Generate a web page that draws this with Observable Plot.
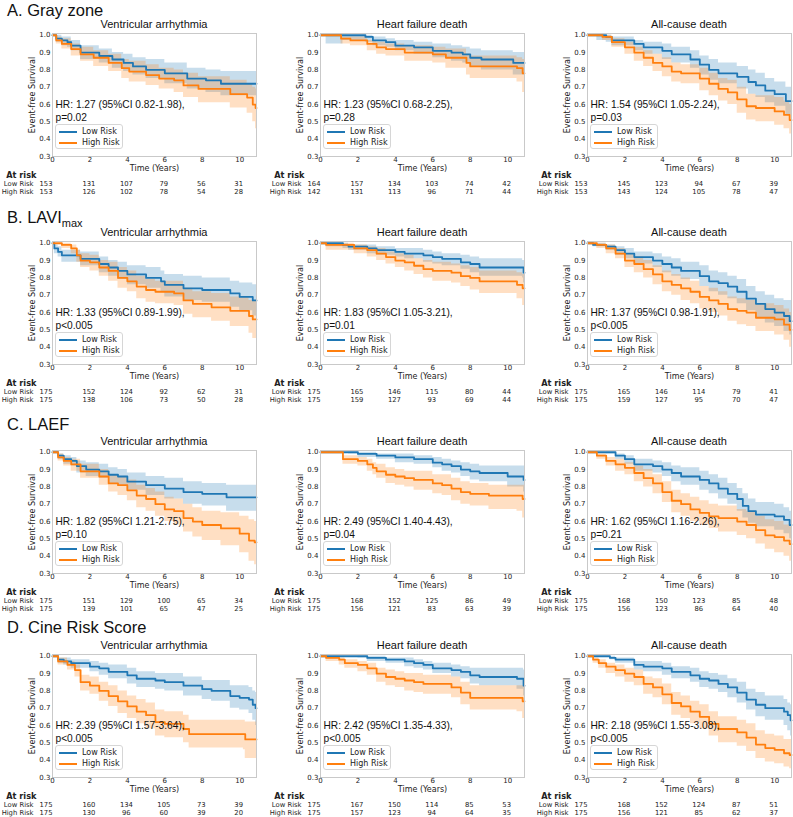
<!DOCTYPE html>
<html><head><meta charset="utf-8">
<script src="https://cdn.jsdelivr.net/npm/d3@7"></script>
<script src="https://cdn.jsdelivr.net/npm/@observablehq/plot@0.6"></script>
<style>
body{margin:0;background:#fff;}
#root{position:relative;width:793px;height:817px;overflow:hidden;font-family:"Liberation Sans",Arial,sans-serif;color:#111;}
.rowtitle{font-size:16.5px;line-height:18px;white-space:nowrap;}
.rowtitle sub{font-size:11px;vertical-align:-4px;}
.ptitle{font-size:11px;line-height:12px;text-align:center;white-space:nowrap;}
.legend{box-sizing:border-box;width:68px;height:25px;border:1px solid #d6d6d6;border-radius:3px;background:rgba(255,255,255,0.85);font-family:"DejaVu Sans",sans-serif;font-size:8px;color:#222;padding-top:1px;}
.li{height:11px;line-height:11px;white-space:nowrap;}
.sw{display:inline-block;width:18px;height:2px;margin:0 5px 0 3px;vertical-align:middle;}
</style></head><body><div id="root"></div>
<script>
// ---------- labels ----------
const rowTitles = ["A. Gray zone", "B. LAVI<sub>max</sub>", "C. LAEF", "D. Cine Risk Score"];
const outcomeTitles = ["Ventricular arrhythmia", "Heart failure death", "All-cause death"];
const groups = ["Low Risk", "High Risk"];
const groupColors = ["#1f77b4", "#ff7f0e"];
const yearTicks = [0, 2, 4, 6, 8, 10];
const survTicks = [0.3, 0.4, 0.5, 0.6, 0.7, 0.8, 0.9, 1.0];
const hrText = [
  ["HR: 1.27 (95%CI 0.82-1.98),", "p=0.02"], ["HR: 1.23 (95%CI 0.68-2.25),", "p=0.28"], ["HR: 1.54 (95%CI 1.05-2.24),", "p=0.03"],
  ["HR: 1.33 (95%CI 0.89-1.99),", "p<0.005"], ["HR: 1.83 (95%CI 1.05-3.21),", "p=0.01"], ["HR: 1.37 (95%CI 0.98-1.91),", "p<0.005"],
  ["HR: 1.82 (95%CI 1.21-2.75),", "p=0.10"], ["HR: 2.49 (95%CI 1.40-4.43),", "p=0.04"], ["HR: 1.62 (95%CI 1.16-2.26),", "p=0.21"],
  ["HR: 2.39 (95%CI 1.57-3.64),", "p<0.005"], ["HR: 2.42 (95%CI 1.35-4.33),", "p<0.005"], ["HR: 2.18 (95%CI 1.55-3.08),", "p<0.005"]
];

// ---------- at-risk counts (at years 0,2,4,6,8,10) ----------
const gzVA_nLow = [153,131,107,79,56,31],  gzVA_nHigh = [153,126,102,78,54,28];
const gzHF_nLow = [164,157,134,103,74,42], gzHF_nHigh = [142,131,113,96,71,44];
const gzAC_nLow = [153,145,123,94,67,39],  gzAC_nHigh = [153,143,124,105,78,47];
const laviVA_nLow = [175,152,124,92,62,31],  laviVA_nHigh = [175,138,106,73,50,28];
const laviHF_nLow = [175,165,146,115,80,44], laviHF_nHigh = [175,159,127,93,69,44];
const laviAC_nLow = [175,165,146,114,79,41], laviAC_nHigh = [175,159,127,95,70,47];
const laefVA_nLow = [175,151,129,100,65,34], laefVA_nHigh = [175,139,101,65,47,25];
const laefHF_nLow = [175,168,152,125,86,49], laefHF_nHigh = [175,156,121,83,63,39];
const laefAC_nLow = [175,168,150,123,85,48], laefAC_nHigh = [175,156,123,86,64,40];
const cineVA_nLow = [175,160,134,105,73,39], cineVA_nHigh = [175,130,96,60,39,20];
const cineHF_nLow = [175,167,150,114,85,53], cineHF_nHigh = [175,157,123,94,64,35];
const cineAC_nLow = [175,168,152,124,87,51], cineAC_nHigh = [175,156,121,85,62,37];

// ---------- Kaplan-Meier curves: [time, survival, CI lower, CI upper] ----------
const gzVA_low = [[0,1,1,1],[0.2,.98,.96,1],[0.5,.97,.94,.99],[0.8,.96,.93,.99],[1.0,.94,.91,.97],[1.5,.90,.86,.94],[2.5,.88,.84,.92],[3.2,.86,.81,.90],[3.8,.84,.79,.89],[4.3,.82,.77,.87],[5.0,.80,.75,.86],[6.0,.78,.72,.84],[7.2,.75,.69,.81],[8.2,.74,.67,.80],[9.0,.72,.65,.79],[10.9,.72,.65,.79]];
const gzVA_high = [[0,1,1,1],[0.2,.97,.95,.99],[0.5,.95,.92,.98],[1.0,.92,.88,.95],[1.5,.89,.85,.93],[2.2,.87,.82,.91],[3.0,.84,.79,.89],[3.7,.81,.75,.86],[4.1,.79,.73,.85],[5.0,.77,.71,.83],[5.7,.75,.69,.81],[6.5,.74,.67,.80],[7.0,.71,.64,.78],[7.8,.69,.61,.76],[9.5,.66,.58,.74],[10.4,.64,.55,.72],[10.7,.60,.50,.70],[10.85,.58,.46,.69],[10.9,.58,.46,.69]];
const gzHF_low = [[0,1,1,1],[0.3,1,.95,1],[1.2,1,.97,1],[2.4,.99,.96,1],[2.8,.97,.94,.99],[3.5,.96,.93,.98],[4.0,.94,.91,.97],[5.0,.93,.89,.96],[6.0,.91,.87,.95],[7.0,.90,.85,.94],[7.6,.89,.84,.93],[8.0,.87,.82,.92],[8.6,.86,.80,.91],[10.3,.84,.77,.90],[10.9,.84,.77,.90]];
const gzHF_high = [[0,1,1,1],[1.1,.98,.95,.99],[1.6,.97,.94,.99],[2.5,.95,.91,.97],[3.0,.93,.89,.96],[3.5,.92,.88,.95],[4.5,.90,.85,.94],[6.0,.89,.84,.93],[6.7,.87,.81,.92],[7.8,.84,.77,.89],[8.0,.82,.75,.88],[10.5,.81,.73,.87],[10.8,.78,.67,.86],[10.9,.78,.67,.86]];
const gzAC_low = [[0,1,1,1],[0.5,1,.97,1],[1.0,.99,.96,1],[1.3,.97,.94,.99],[2.5,.95,.91,.97],[3.0,.93,.89,.96],[4.0,.91,.86,.95],[4.5,.89,.84,.93],[5.5,.86,.81,.91],[6.0,.83,.77,.88],[6.5,.80,.74,.86],[7.0,.78,.72,.84],[8.0,.76,.69,.82],[8.6,.73,.66,.80],[9.0,.71,.64,.78],[9.5,.68,.61,.75],[10.0,.66,.59,.73],[10.6,.62,.54,.70],[10.9,.62,.54,.70]];
const gzAC_high = [[0,1,1,1],[0.8,.99,.97,1],[1.3,.96,.93,.98],[2.0,.93,.89,.96],[2.5,.90,.85,.93],[3.0,.87,.82,.91],[3.5,.84,.79,.89],[4.0,.82,.76,.87],[4.5,.79,.73,.84],[5.0,.78,.72,.83],[6.0,.75,.68,.81],[6.5,.72,.65,.78],[7.0,.69,.62,.75],[7.5,.67,.60,.74],[8.0,.63,.55,.70],[8.5,.59,.51,.66],[9.0,.58,.50,.65],[10.0,.56,.48,.64],[10.5,.54,.46,.62],[10.8,.51,.43,.60],[10.9,.51,.43,.60]];
const laviVA_low = [[0,1,1,1],[0.1,.97,.94,.99],[0.3,.95,.92,.98],[0.5,.93,.89,.96],[1.5,.91,.87,.95],[2.5,.88,.83,.92],[3.0,.86,.81,.90],[3.5,.84,.79,.89],[4.0,.82,.76,.87],[5.0,.80,.74,.86],[5.8,.78,.72,.84],[6.0,.76,.69,.82],[7.0,.74,.67,.81],[8.0,.73,.66,.80],[9.5,.71,.63,.78],[10.0,.69,.61,.77],[10.7,.67,.58,.76],[10.9,.67,.58,.76]];
const laviVA_high = [[0,1,1,1],[0.5,.99,.97,1],[1.0,.97,.94,.99],[1.3,.93,.89,.96],[1.5,.90,.86,.94],[2.0,.89,.84,.93],[2.5,.86,.81,.90],[3.0,.84,.78,.89],[3.5,.80,.74,.86],[4.0,.78,.72,.84],[4.5,.75,.68,.81],[5.0,.73,.66,.79],[5.5,.72,.65,.78],[6.5,.71,.64,.78],[7.0,.67,.59,.74],[7.5,.65,.57,.72],[8.5,.63,.55,.71],[9.5,.61,.52,.69],[10.5,.58,.48,.67],[10.7,.56,.45,.67],[10.9,.56,.45,.67]];
const laviHF_low = [[0,1,1,1],[0.3,1,.98,1],[1.2,.99,.97,1],[1.5,.98,.96,.99],[2.5,.97,.94,.99],[3.0,.96,.93,.98],[4.0,.95,.92,.97],[4.5,.94,.91,.97],[5.5,.93,.89,.96],[6.0,.92,.88,.95],[6.5,.91,.87,.94],[7.5,.89,.85,.93],[8.0,.88,.83,.92],[8.5,.86,.81,.91],[10.8,.86,.80,.90],[10.85,.83,.77,.90],[10.9,.83,.77,.90]];
const laviHF_high = [[0,1,1,1],[0.3,.99,.96,1],[1.8,.97,.94,.99],[2.5,.96,.92,.98],[3.0,.94,.90,.97],[3.5,.92,.88,.95],[4.0,.90,.86,.94],[4.5,.89,.84,.93],[5.0,.87,.82,.91],[5.5,.85,.80,.90],[6.0,.84,.78,.89],[7.0,.83,.77,.88],[7.5,.81,.75,.87],[8.0,.80,.73,.86],[8.5,.78,.71,.84],[10.5,.76,.68,.83],[10.8,.74,.64,.82],[10.9,.74,.64,.82]];
const laviAC_low = [[0,1,1,1],[0.3,.99,.98,1],[1.0,.98,.96,.99],[1.5,.96,.93,.98],[2.0,.94,.91,.97],[2.5,.92,.88,.95],[3.5,.90,.86,.94],[4.0,.88,.83,.92],[4.5,.86,.81,.91],[5.0,.84,.79,.89],[6.0,.81,.75,.87],[6.5,.78,.72,.84],[7.0,.77,.70,.83],[7.5,.75,.68,.81],[8.0,.72,.65,.79],[8.5,.68,.61,.75],[9.0,.65,.57,.72],[9.5,.62,.54,.70],[10.0,.60,.52,.68],[10.5,.58,.49,.67],[10.8,.55,.47,.67],[10.9,.55,.47,.67]];
const laviAC_high = [[0,1,1,1],[0.5,.99,.97,1],[1.0,.97,.94,.99],[1.5,.94,.91,.97],[2.0,.90,.86,.94],[2.5,.88,.83,.92],[3.0,.85,.80,.90],[3.5,.82,.76,.87],[4.0,.78,.72,.84],[4.5,.76,.70,.82],[5.0,.74,.67,.80],[5.5,.72,.65,.78],[6.0,.69,.62,.75],[6.5,.67,.60,.74],[7.0,.65,.58,.72],[7.5,.62,.55,.69],[8.0,.61,.53,.68],[8.5,.60,.52,.67],[9.0,.57,.49,.65],[10.0,.56,.47,.64],[10.5,.53,.44,.62],[10.8,.50,.40,.60],[10.9,.50,.40,.60]];
const laefVA_low = [[0,1,1,1],[0.3,.98,.96,.99],[0.6,.96,.93,.98],[1.0,.95,.92,.97],[1.3,.92,.88,.95],[1.8,.90,.86,.94],[2.5,.89,.85,.93],[3.0,.87,.82,.91],[3.5,.86,.81,.90],[4.0,.83,.78,.88],[5.0,.81,.75,.86],[6.0,.79,.73,.85],[7.0,.77,.70,.83],[8.0,.76,.69,.82],[9.3,.74,.66,.81],[10.9,.74,.66,.81]];
const laefVA_high = [[0,1,1,1],[0.3,.97,.95,.99],[0.6,.95,.92,.97],[1.0,.93,.89,.96],[1.5,.89,.85,.93],[2.5,.86,.81,.90],[3.0,.82,.77,.87],[3.5,.81,.75,.86],[4.0,.78,.72,.84],[4.5,.75,.68,.81],[5.0,.73,.66,.79],[5.5,.70,.63,.77],[6.0,.67,.60,.74],[6.5,.66,.58,.73],[7.0,.62,.54,.70],[7.5,.60,.51,.68],[8.0,.58,.49,.66],[9.0,.56,.46,.65],[10.0,.53,.42,.63],[10.5,.49,.37,.61],[10.8,.48,.35,.60],[10.9,.48,.35,.60]];
const laefHF_low = [[0,1,1,1],[1.5,1,.99,1],[2.0,.99,.97,1],[3.0,.98,.96,.99],[4.0,.97,.94,.99],[5.0,.96,.93,.98],[6.0,.94,.91,.97],[6.5,.93,.89,.96],[7.0,.92,.88,.95],[7.5,.90,.86,.94],[8.0,.89,.84,.93],[8.5,.88,.83,.92],[10.0,.86,.80,.92],[10.85,.84,.77,.92],[10.9,.84,.77,.92]];
const laefHF_high = [[0,1,1,1],[1.2,.96,.93,.98],[2.0,.95,.92,.97],[2.5,.93,.89,.96],[2.8,.91,.87,.94],[3.0,.89,.85,.93],[3.5,.87,.82,.91],[4.0,.86,.81,.90],[4.5,.85,.80,.89],[5.0,.84,.78,.89],[6.0,.82,.76,.87],[6.5,.81,.75,.87],[7.0,.79,.72,.85],[7.5,.77,.70,.83],[8.0,.76,.69,.82],[9.0,.75,.67,.81],[10.5,.75,.66,.81],[10.8,.73,.62,.81],[10.9,.73,.62,.81]];
const laefAC_low = [[0,1,1,1],[1.0,1,.99,1],[1.5,.98,.96,.99],[2.0,.96,.93,.98],[2.5,.93,.89,.96],[3.5,.92,.88,.95],[4.0,.90,.86,.94],[4.5,.88,.83,.92],[5.0,.86,.81,.91],[6.0,.84,.78,.89],[6.5,.82,.76,.87],[7.0,.79,.73,.85],[7.5,.76,.70,.82],[8.0,.73,.66,.79],[8.3,.69,.62,.76],[8.6,.66,.59,.73],[9.0,.64,.57,.71],[10.0,.63,.55,.70],[10.5,.61,.53,.68],[10.8,.58,.50,.66],[10.9,.58,.50,.66]];
const laefAC_high = [[0,1,1,1],[0.5,.98,.96,.99],[1.0,.95,.92,.97],[1.5,.93,.89,.96],[2.0,.91,.87,.94],[2.5,.88,.83,.92],[3.0,.85,.80,.90],[3.5,.82,.76,.87],[4.0,.77,.71,.83],[4.5,.72,.65,.78],[5.0,.70,.63,.76],[5.5,.67,.60,.74],[6.0,.65,.58,.72],[6.5,.63,.56,.70],[7.0,.62,.54,.69],[8.0,.60,.52,.67],[8.5,.58,.50,.66],[9.0,.55,.47,.63],[9.5,.52,.44,.61],[10.0,.51,.42,.60],[10.5,.49,.40,.58],[10.8,.47,.37,.57],[10.9,.47,.37,.57]];
const cineVA_low = [[0,1,1,1],[0.3,.98,.96,.99],[0.6,.97,.95,.99],[1.0,.96,.93,.98],[2.0,.94,.91,.97],[2.5,.93,.89,.96],[3.0,.91,.87,.95],[4.0,.89,.84,.93],[4.5,.87,.82,.91],[5.5,.86,.81,.90],[6.0,.85,.80,.90],[7.0,.83,.77,.88],[8.0,.81,.75,.86],[8.5,.80,.74,.86],[9.5,.77,.70,.83],[10.0,.76,.69,.83],[10.5,.75,.67,.82],[10.7,.72,.63,.80],[10.85,.70,.60,.79],[10.9,.70,.60,.79]];
const cineVA_high = [[0,1,1,1],[0.3,.97,.95,.99],[0.8,.95,.92,.97],[1.2,.92,.88,.95],[1.5,.85,.80,.89],[2.0,.83,.78,.88],[2.5,.80,.74,.85],[3.0,.77,.71,.83],[3.5,.74,.67,.80],[4.0,.71,.64,.77],[4.5,.68,.61,.75],[5.0,.66,.58,.73],[5.5,.62,.54,.69],[6.0,.61,.53,.68],[7.0,.58,.50,.66],[7.3,.55,.47,.63],[10.2,.55,.46,.63],[10.3,.52,.41,.62],[10.9,.52,.41,.62]];
const cineHF_low = [[0,1,1,1],[2.0,1,.99,1],[2.5,.99,.97,1],[3.5,.98,.96,.99],[4.5,.97,.94,.99],[5.0,.96,.93,.98],[5.5,.95,.92,.97],[6.0,.93,.90,.96],[7.0,.92,.88,.95],[7.5,.91,.87,.94],[8.0,.89,.84,.93],[8.5,.88,.83,.93],[10.5,.87,.81,.93],[10.85,.83,.77,.92],[10.9,.83,.77,.92]];
const cineHF_high = [[0,1,1,1],[0.3,.99,.97,1],[1.0,.98,.95,.99],[1.3,.96,.93,.98],[2.0,.95,.91,.97],[2.5,.93,.89,.96],[3.0,.90,.85,.93],[3.5,.88,.83,.92],[4.0,.87,.82,.91],[4.5,.86,.80,.90],[5.0,.85,.79,.90],[5.5,.84,.78,.89],[7.0,.82,.76,.88],[7.5,.79,.72,.85],[8.0,.76,.69,.83],[10.5,.76,.68,.83],[10.8,.74,.64,.83],[10.9,.74,.64,.83]];
const cineAC_low = [[0,1,1,1],[1.2,.99,.98,1],[1.5,.98,.96,.99],[2.5,.95,.92,.97],[3.0,.94,.91,.97],[4.0,.93,.89,.96],[4.5,.91,.87,.94],[5.5,.89,.85,.93],[6.0,.87,.82,.91],[6.5,.86,.81,.90],[7.0,.84,.79,.89],[7.5,.82,.76,.87],[8.0,.79,.73,.85],[8.5,.75,.69,.81],[9.0,.72,.65,.79],[9.5,.70,.63,.77],[10.5,.68,.60,.75],[10.7,.66,.57,.73],[10.85,.63,.54,.72],[10.9,.63,.54,.72]];
const cineAC_high = [[0,1,1,1],[0.3,.98,.96,.99],[0.6,.96,.93,.98],[1.0,.94,.90,.96],[1.5,.92,.88,.95],[2.0,.90,.85,.93],[2.5,.88,.83,.92],[3.0,.84,.78,.88],[3.5,.82,.76,.87],[4.0,.78,.72,.84],[4.5,.73,.66,.79],[5.0,.71,.64,.77],[5.5,.68,.61,.74],[6.0,.65,.58,.72],[6.5,.61,.54,.68],[7.0,.58,.50,.65],[8.0,.56,.48,.63],[8.5,.53,.45,.61],[9.0,.49,.41,.57],[9.5,.47,.39,.55],[10.0,.46,.38,.54],[10.5,.44,.36,.52],[10.8,.43,.35,.52],[10.9,.43,.35,.52]];

const panels = [
  [gzVA_low, gzVA_high, gzVA_nLow, gzVA_nHigh], [gzHF_low, gzHF_high, gzHF_nLow, gzHF_nHigh], [gzAC_low, gzAC_high, gzAC_nLow, gzAC_nHigh],
  [laviVA_low, laviVA_high, laviVA_nLow, laviVA_nHigh], [laviHF_low, laviHF_high, laviHF_nLow, laviHF_nHigh], [laviAC_low, laviAC_high, laviAC_nLow, laviAC_nHigh],
  [laefVA_low, laefVA_high, laefVA_nLow, laefVA_nHigh], [laefHF_low, laefHF_high, laefHF_nLow, laefHF_nHigh], [laefAC_low, laefAC_high, laefAC_nLow, laefAC_nHigh],
  [cineVA_low, cineVA_high, cineVA_nLow, cineVA_nHigh], [cineHF_low, cineHF_high, cineHF_nLow, cineHF_nHigh], [cineAC_low, cineAC_high, cineAC_nLow, cineAC_nHigh]
];

// ---------- layout ----------
const frameLefts = [52, 320, 587];
const frameTops = [33, 241, 450, 654];
const rowTitleTops = [1, 208, 415, 618];
const ML = 44, MT = 2, MB = 22, FW = 204, FH = 123;
const PW = ML + FW + 2, PH = MT + FH + MB;
const xDomain = [0, 10.9], yDomain = [0.3, 1.01];

const root = document.getElementById("root");
function place(el, left, top) { el.style.position = "absolute"; el.style.left = left + "px"; el.style.top = top + "px"; root.appendChild(el); return el; }

rowTitles.forEach((t, r) => {
  const d = document.createElement("div"); d.className = "rowtitle"; d.innerHTML = t; place(d, 7, rowTitleTops[r]);
});

panels.forEach((p, i) => {
  const r = Math.floor(i / 3), c = i % 3;
  const fl = frameLefts[c], ft = frameTops[r];
  const [low, high, nLow, nHigh] = p;
  const rows = [
    ...low.map(d => ({t: d[0], s: d[1], lo: d[2], hi: d[3], g: groups[0]})),
    ...high.map(d => ({t: d[0], s: d[1], lo: d[2], hi: d[3], g: groups[1]}))
  ];
  const main = Plot.plot({
    width: PW, height: PH, marginLeft: ML, marginRight: 2, marginTop: MT, marginBottom: MB,
    style: {fontFamily: "DejaVu Sans, sans-serif", fontSize: "7px", color: "#222", background: "transparent", overflow: "visible"},
    x: {domain: xDomain},
    y: {domain: yDomain},
    color: {domain: groups, range: groupColors},
    marks: [
      Plot.areaY(rows, {x: "t", y1: "lo", y2: "hi", fill: "g", fillOpacity: 0.25, curve: "step-after"}),
      Plot.line(rows, {x: "t", y: "s", stroke: "g", z: "g", strokeWidth: 1.8, curve: "step-after"}),
      Plot.frame({stroke: "#c9c9c9"}),
      Plot.axisX({ticks: yearTicks, tickSize: 0, tickPadding: 1, tickFormat: d => String(d), label: null}),
      Plot.axisY({ticks: survTicks, tickSize: 0, tickPadding: 2, tickFormat: d3.format(".1f"), label: null}),
      Plot.text(["Event-free Survival"], {frameAnchor: "left", rotate: -90, dx: -20, fontSize: 8, textAnchor: "middle"}),
      Plot.text(["Time (Years)"], {frameAnchor: "bottom", dy: 14.5, fontSize: 8, textAnchor: "middle"}),
      Plot.text([hrText[i].join("\n")], {frameAnchor: "top-left", textAnchor: "start", lineAnchor: "top", dx: 3, dy: 65, fontSize: 10.2, lineHeight: 1.3, fontFamily: "Liberation Sans, Arial, sans-serif", fill: "#111"})
    ]
  });
  place(main, fl - ML, ft - MT);

  const tt = document.createElement("div"); tt.className = "ptitle"; tt.style.width = FW + "px"; tt.textContent = outcomeTitles[c];
  place(tt, fl, ft - 15);

  const lg = document.createElement("div"); lg.className = "legend";
  lg.innerHTML = groups.map((g, k) => `<div class="li"><span class="sw" style="background:${groupColors[k]}"></span>${g}</div>`).join("");
  place(lg, fl + 3, ft + 91);

  const risk = [
    ...yearTicks.map((t, k) => ({t, g: groups[0], n: nLow[k]})),
    ...yearTicks.map((t, k) => ({t, g: groups[1], n: nHigh[k]}))
  ];
  const table = Plot.plot({
    width: PW, height: 24, marginLeft: ML, marginRight: 2, marginTop: 4, marginBottom: 4,
    style: {fontFamily: "DejaVu Sans, sans-serif", fontSize: "6.8px", color: "#222", background: "transparent", overflow: "visible"},
    x: {domain: xDomain, axis: null},
    y: {type: "point", domain: ["At risk", ...groups], padding: 0, axis: null},
    marks: [
      Plot.text(["At risk"], {y: d => d, frameAnchor: "left", textAnchor: "end", dx: -16, fontWeight: "bold", fontSize: 8.2, text: d => d}),
      Plot.text(groups, {y: d => d, frameAnchor: "left", textAnchor: "end", dx: -19, text: d => d}),
      Plot.text(risk.filter(d => d.t === 0), {x: "t", y: "g", text: "n", textAnchor: "end"}),
      Plot.text(risk.filter(d => d.t !== 0), {x: "t", y: "g", text: "n", textAnchor: "middle", dx: -1})
    ]
  });
  place(table, fl - ML, ft + FH + 19 - 4);
});
</script></body></html>
